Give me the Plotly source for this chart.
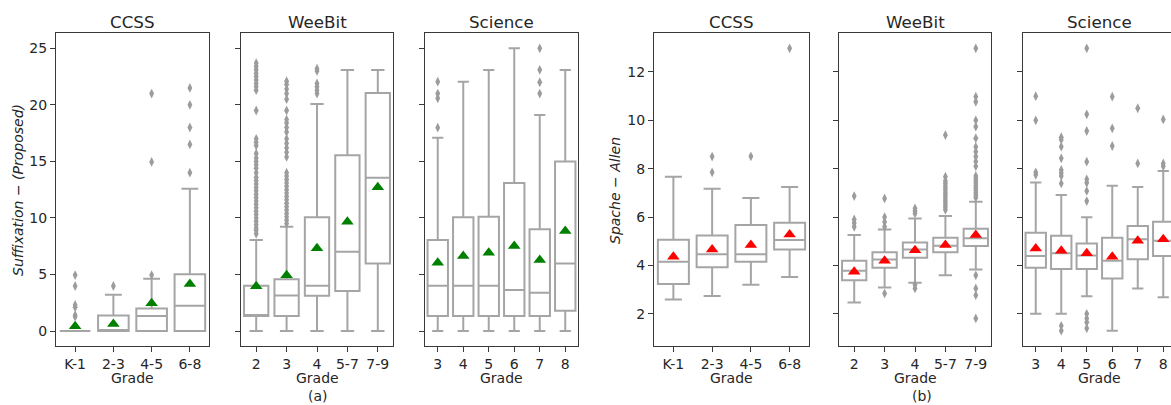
import plotly.graph_objects as go

W, H = 1171, 405

# ---------------- data ----------------
CCSS_GRADES = ["K-1", "2-3", "4-5", "6-8"]
WEEBIT_GRADES = ["2", "3", "4", "5-7", "7-9"]
SCIENCE_GRADES = ["3", "4", "5", "6", "7", "8"]

# Panel (a): Suffixation - (Proposed)
A_CCSS_Q1 = [0, 0, 0, 0]
A_CCSS_MED = [0, 0, 1.33, 2.24]
A_CCSS_Q3 = [0, 1.36, 1.98, 5.01]
A_CCSS_LO = [0, 0, 0, 0]
A_CCSS_HI = [0, 3.21, 4.63, 12.59]
A_CCSS_MEAN = [0.42, 0.62, 2.45, 4.16]
A_CCSS_OUT = [[4.95, 3.98, 2.3, 2.1, 1.4, 1.27],
              [3.98],
              [4.95, 14.95, 21.0],
              [14.0, 16.5, 18.0, 20.0, 21.5]]

A_WEEBIT_Q1 = [1.33, 1.33, 3.12, 3.54, 5.98]
A_WEEBIT_MED = [1.33, 3.15, 4.0, 7.02, 13.56]
A_WEEBIT_Q3 = [4.0, 4.57, 10.05, 15.54, 21.05]
A_WEEBIT_LO = [0, 0, 0, 0, 0]
A_WEEBIT_HI = [8.05, 9.23, 20.08, 23.08, 23.08]
A_WEEBIT_MEAN = [3.95, 4.92, 7.31, 9.67, 12.71]
A_WEEBIT_OUT = [
    [8.6, 8.9, 9.1, 9.4, 9.7, 10.0, 10.3, 10.6, 10.9, 11.2, 11.5, 11.8, 12.1,
     12.4, 12.7, 13.0, 13.3, 13.6, 14.0, 14.4, 14.7, 15.0, 15.3, 15.7, 16.4,
     16.7, 17.0, 19.5, 21.3, 21.6, 21.9, 22.2, 22.5, 22.8, 23.1, 23.4, 23.7],
    [9.5, 9.8, 10.1, 10.4, 10.7, 11.0, 11.3, 11.6, 11.9, 12.2, 12.5, 12.8,
     13.1, 13.4, 13.7, 14.0, 15.4, 15.8, 16.2, 16.6, 17.0, 17.6, 18.0, 18.4,
     18.7, 19.5, 20.5, 21.0, 21.4, 21.8, 22.1],
    [21.0, 21.3, 21.6, 21.9, 23.0, 23.2],
    [],
    [],
]

A_SCI_Q1 = [1.33, 1.33, 1.33, 1.33, 1.33, 1.8]
A_SCI_MED = [4.0, 4.0, 4.0, 3.63, 3.39, 5.98]
A_SCI_Q3 = [8.05, 10.05, 10.11, 13.09, 8.99, 15.0]
A_SCI_LO = [0, 0, 0, 0, 0, 0]
A_SCI_HI = [17.1, 22.05, 23.08, 25.0, 19.1, 23.08]
A_SCI_MEAN = [6.04, 6.63, 6.93, 7.52, 6.28, 8.84]
A_SCI_OUT = [[17.98, 20.58, 21.0, 22.05], [], [], [], [21.0, 22.0, 23.1, 25.0], []]

# Panel (b): Spache - Allen
B_CCSS_Q1 = [3.23, 3.92, 4.15, 4.66]
B_CCSS_MED = [4.15, 4.46, 4.46, 5.05]
B_CCSS_Q3 = [5.06, 5.24, 5.67, 5.77]
B_CCSS_LO = [2.59, 2.74, 3.2, 3.52]
B_CCSS_HI = [7.67, 7.17, 6.79, 7.24]
B_CCSS_MEAN = [4.36, 4.66, 4.84, 5.28]
B_CCSS_OUT = [[], [7.85, 8.5], [8.51], [12.98]]

B_WEEBIT_Q1 = [3.39, 3.9, 4.32, 4.54, 4.8]
B_WEEBIT_MED = [3.78, 4.25, 4.66, 4.81, 5.12]
B_WEEBIT_Q3 = [4.19, 4.54, 4.95, 5.14, 5.52]
B_WEEBIT_LO = [2.47, 3.09, 3.28, 3.59, 3.83]
B_WEEBIT_HI = [5.26, 5.49, 5.94, 6.04, 6.63]
B_WEEBIT_MEAN = [3.74, 4.19, 4.63, 4.84, 5.26]
B_WEEBIT_OUT = [
    [5.6, 5.75, 5.9, 6.87],
    [2.84, 5.6, 5.8, 6.0, 6.77],
    [3.05, 3.2, 6.15, 6.25, 6.36],
    [6.3, 6.4, 6.5, 6.6, 6.7, 6.8, 6.9, 7.0, 7.1, 7.2, 7.3, 7.4, 7.5, 7.67, 9.39],
    [6.8, 6.9, 7.0, 7.1, 7.2, 7.3, 7.4, 7.5, 7.6, 7.7, 8.1, 8.3, 8.5, 8.7,
     8.9, 9.26, 9.74, 10.0, 10.77, 10.98, 12.98, 3.59, 3.05, 2.77, 1.81],
]

B_SCI_Q1 = [3.9, 3.85, 3.85, 3.46, 4.26, 4.39]
B_SCI_MED = [4.39, 4.5, 4.41, 4.19, 5.08, 5.02]
B_SCI_Q3 = [5.35, 5.23, 4.91, 5.14, 5.63, 5.81]
B_SCI_LO = [2.0, 2.0, 2.73, 1.3, 3.05, 2.68]
B_SCI_HI = [7.43, 6.91, 5.99, 7.3, 7.24, 7.9]
B_SCI_MEAN = [4.7, 4.61, 4.5, 4.36, 5.02, 5.08]
B_SCI_OUT = [
    [7.75, 7.85, 10.0, 11.0],
    [7.39, 7.7, 7.82, 7.95, 8.43, 8.91, 9.2, 9.3, 1.5, 1.3],
    [6.66, 7.08, 7.42, 7.56, 8.29, 9.56, 10.25, 12.98, 2.0, 1.8, 1.65, 1.4],
    [8.94, 9.67, 10.98],
    [8.22, 10.5],
    [8.1, 8.22, 10.04],
]

# ---------------- styling ----------------
BOX_LINE = "#a5a5a5"
OUT_COLOR = "#9c9c9c"
FRAME = "#3a3a3a"
TEXT = "#262626"
FONT = "DejaVu Sans"


def px_x(p):
    return p / W


def px_y(p):
    return 1 - p / H


TOP, BOTTOM = 33.3, 345.7
YDOM = [px_y(BOTTOM), px_y(TOP)]

panels = [
    # (grades, q1, med, q3, lo, hi, mean, out, xpix, yrange, meancolor, showlabels, xrange)
    (CCSS_GRADES, A_CCSS_Q1, A_CCSS_MED, A_CCSS_Q3, A_CCSS_LO, A_CCSS_HI, A_CCSS_MEAN, A_CCSS_OUT,
     (56, 209), [-1.3, 26.33], "#008000", True, None),
    (WEEBIT_GRADES, A_WEEBIT_Q1, A_WEEBIT_MED, A_WEEBIT_Q3, A_WEEBIT_LO, A_WEEBIT_HI, A_WEEBIT_MEAN, A_WEEBIT_OUT,
     (241, 393), [-1.3, 26.33], "#008000", False, None),
    (SCIENCE_GRADES, A_SCI_Q1, A_SCI_MED, A_SCI_Q3, A_SCI_LO, A_SCI_HI, A_SCI_MEAN, A_SCI_OUT,
     (425, 578), [-1.3, 26.33], "#008000", False, None),
    (CCSS_GRADES, B_CCSS_Q1, B_CCSS_MED, B_CCSS_Q3, B_CCSS_LO, B_CCSS_HI, B_CCSS_MEAN, B_CCSS_OUT,
     (654, 809), [0.68, 13.6], "#ff0000", True, None),
    (WEEBIT_GRADES, B_WEEBIT_Q1, B_WEEBIT_MED, B_WEEBIT_Q3, B_WEEBIT_LO, B_WEEBIT_HI, B_WEEBIT_MEAN, B_WEEBIT_OUT,
     (839, 991), [0.68, 13.6], "#ff0000", False, None),
    (SCIENCE_GRADES, B_SCI_Q1, B_SCI_MED, B_SCI_Q3, B_SCI_LO, B_SCI_HI, B_SCI_MEAN, B_SCI_OUT,
     (1023, 1171), [0.68, 13.6], "#ff0000", False, [-0.5, -0.5 + 6 * 148 / 153]),
]

fig = go.Figure()
layout = dict(
    width=W, height=H, margin=dict(l=0, r=0, t=0, b=0),
    paper_bgcolor="white", plot_bgcolor="white", showlegend=False,
    font=dict(family=FONT, color=TEXT, size=14),
)

for i, (grades, q1, med, q3, lo, hi, mean, out, xpix, yr, mcol, showlab, xr) in enumerate(panels):
    n = i + 1
    xa = "x" if n == 1 else f"x{n}"
    ya = "y" if n == 1 else f"y{n}"
    fig.add_trace(go.Box(
        x=grades, q1=q1, median=med, q3=q3, lowerfence=lo, upperfence=hi,
        xaxis=xa, yaxis=ya, width=0.8, whiskerwidth=0.55,
        fillcolor="white", line=dict(color=BOX_LINE, width=2),
        boxpoints=False, hoverinfo="skip",
    ))
    ox, oy = [], []
    for g, vals in zip(grades, out):
        for v in vals:
            ox.append(g)
            oy.append(v)
    fig.add_trace(go.Scatter(
        x=ox, y=oy, mode="markers", xaxis=xa, yaxis=ya,
        marker=dict(symbol="diamond-tall", size=7, color=OUT_COLOR, line=dict(width=0)),
        hoverinfo="skip",
    ))
    fig.add_trace(go.Scatter(
        x=grades, y=mean, mode="markers", xaxis=xa, yaxis=ya,
        marker=dict(symbol="triangle-up", size=11, color=mcol, line=dict(width=0)),
        hoverinfo="skip",
    ))
    last = (n == 6)
    xkey = "xaxis" if n == 1 else f"xaxis{n}"
    ykey = "yaxis" if n == 1 else f"yaxis{n}"
    xaxis = dict(
        domain=[px_x(xpix[0]), px_x(xpix[1])], anchor=ya, type="category",
        categoryorder="array", categoryarray=grades,
        showline=True, linecolor=FRAME, linewidth=1.1, mirror=True,
        ticks="outside", ticklen=5, tickcolor=FRAME, tickwidth=1,
        showgrid=False, zeroline=False, tickfont=dict(size=14, color=TEXT, family=FONT),
        fixedrange=True,
    )
    if xr is not None:
        xaxis["range"] = xr
    else:
        xaxis["range"] = [-0.5, len(grades) - 0.5]
    layout[xkey] = xaxis
    layout[ykey] = dict(
        domain=YDOM, anchor=xa, range=yr,
        showline=True, linecolor=FRAME, linewidth=1.1, mirror=(not last),
        ticks="outside", ticklen=5, tickcolor=FRAME, tickwidth=1,
        showticklabels=showlab, showgrid=False, zeroline=False,
        dtick=5 if yr[0] < 0 else 2, tick0=0,
        tickfont=dict(size=14, color=TEXT, family=FONT),
        fixedrange=True,
    )

annotations = []
titles = ["CCSS", "WeeBit", "Science", "CCSS", "WeeBit", "Science"]
for (p, t) in zip(panels, titles):
    x0, x1 = p[8]
    if t == "Science" and x0 > 1000:
        x1 = 1176
    annotations.append(dict(text=t, x=px_x((x0 + x1) / 2), y=px_y(22), xref="paper", yref="paper",
                            showarrow=False, xanchor="center", yanchor="middle",
                            font=dict(size=16.7, color=TEXT, family=FONT)))
    annotations.append(dict(text="Grade", x=px_x((x0 + x1) / 2), y=px_y(378), xref="paper", yref="paper",
                            showarrow=False, xanchor="center", yanchor="middle",
                            font=dict(size=14, color=TEXT, family=FONT)))

annotations.append(dict(text="(a)", x=px_x(318), y=px_y(396), xref="paper", yref="paper",
                        showarrow=False, xanchor="center", yanchor="middle",
                        font=dict(size=14, color=TEXT, family=FONT)))
annotations.append(dict(text="(b)", x=px_x(922), y=px_y(396), xref="paper", yref="paper",
                        showarrow=False, xanchor="center", yanchor="middle",
                        font=dict(size=14, color=TEXT, family=FONT)))
annotations.append(dict(text="<i>Suffixation</i> − <i>(Proposed)</i>", x=px_x(18), y=px_y(190),
                        xref="paper", yref="paper", showarrow=False, textangle=-90,
                        xanchor="center", yanchor="middle",
                        font=dict(size=14, color=TEXT, family=FONT)))
annotations.append(dict(text="<i>Spache</i> − <i>Allen</i>", x=px_x(615), y=px_y(190),
                        xref="paper", yref="paper", showarrow=False, textangle=-90,
                        xanchor="center", yanchor="middle",
                        font=dict(size=14, color=TEXT, family=FONT)))
layout["annotations"] = annotations

fig.update_layout(**layout)
fig.write_html(
    "out.html",
    config={"displayModeBar": False},
    post_script="document.body.style.margin='0';document.body.style.overflow='hidden';",
)
